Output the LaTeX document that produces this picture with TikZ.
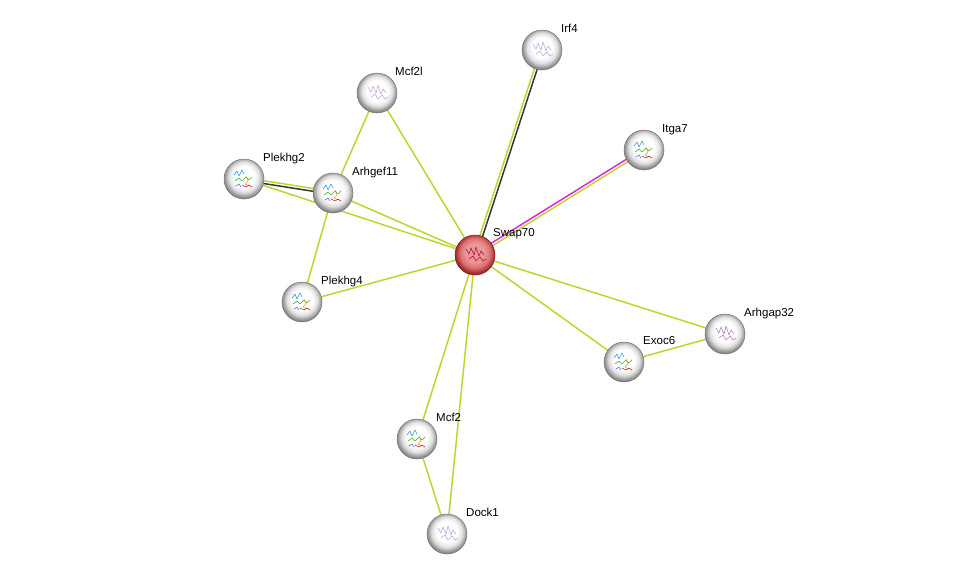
\documentclass[tikz,border=0pt]{standalone}
\usepackage{fontspec}
\setmainfont{Liberation Sans}
\usetikzlibrary{backgrounds,calc}
\definecolor{egreen}{RGB}{192,212,48}
\definecolor{eblack}{RGB}{55,55,55}
\definecolor{emag}{RGB}{222,40,222}
\definecolor{lav}{RGB}{190,150,215}
\definecolor{rimgray}{RGB}{120,120,120}
\definecolor{rimred}{RGB}{130,30,30}
\definecolor{redc}{RGB}{236,150,150}
\definecolor{redm}{RGB}{220,110,110}
\definecolor{rede}{RGB}{175,60,60}
\pgfdeclareradialshading{sphgray}{\pgfpoint{0bp}{4bp}}{%
  color(0bp)=(white); color(13bp)=(white); color(19bp)=(black!12);
  color(23bp)=(black!35); color(27bp)=(black!55); color(50bp)=(black!55)}
\pgfdeclareradialshading{sphred}{\pgfpoint{0bp}{4bp}}{%
  color(0bp)=(redc); color(12bp)=(redc); color(19bp)=(redm);
  color(23bp)=(rede); color(27bp)=(rimred); color(50bp)=(rimred)}
\tikzset{
  prot/.style={circle, minimum size=40pt, inner sep=0pt, shading=sphgray, draw=rimgray, line width=0.5pt},
  protred/.style={prot, shading=sphred, draw=rimred},
  lab/.style={anchor=base west, inner sep=0pt, font=\fontsize{11.5pt}{13pt}\selectfont},
  edge/.style={line width=1.5pt},
  scr/.style={line width=0.6pt, opacity=0.85, line join=round},
}
\newcommand\dedge[4]{%
  \draw[edge,#3] ($(#1)!1.4pt!90:(#2)$) -- ($(#2)!1.4pt!-90:(#1)$);
  \draw[edge,#4] ($(#1)!1.4pt!-90:(#2)$) -- ($(#2)!1.4pt!90:(#1)$);
}
\newcommand\scrib[2]{%
  \draw[scr,#2] ($(#1)+(-9,-6)$) -- ++(3,5) -- ++(2,-6) -- ++(3,7) -- ++(2,-8) -- ++(3,9) -- ++(2,-5) -- ++(3,4);
  \draw[scr,#2] ($(#1)+(-6,4)$) -- ++(4,-3) -- ++(3,5) -- ++(4,-4) -- ++(3,4) -- ++(3,-2);
}
\newcommand\scribrb[1]{%
  \draw[scr,cyan!70!blue] ($(#1)+(-10,-4)$) -- ++(3,-4) -- ++(2,5) -- ++(3,-6) -- ++(2,4);
  \draw[scr,green!70!black] ($(#1)+(-9,2)$) -- ++(4,-3) -- ++(3,3) -- ++(4,-4) -- ++(3,3) -- ++(3,-3);
  \draw[scr,orange] ($(#1)+(2,-3)$) -- ++(2,5) -- ++(-3,3) -- ++(4,2);
  \draw[scr,red!70!black] ($(#1)+(-2,6)$) -- ++(4,2) -- ++(3,-2) -- ++(3,2);
  \draw[scr,blue!70] ($(#1)+(-8,7)$) -- ++(3,-2) -- ++(2,3);
}
\begin{document}
\begin{tikzpicture}[x=1pt,y=-1pt]
\useasboundingbox (0,0) rectangle (976,579);
% nodes
\node[protred] (swap) at (475,255) {};
\node[prot] (irf4) at (542,50) {};
\node[prot] (mcf2l) at (377,93) {};
\node[prot] (itga7) at (644,150) {};
\node[prot] (plekhg2) at (244,179) {};
\node[prot] (arhgef11) at (333,193) {};
\node[prot] (plekhg4) at (302,302) {};
\node[prot] (arhgap32) at (725,334) {};
\node[prot] (exoc6) at (624,362) {};
\node[prot] (mcf2) at (417,439) {};
\node[prot] (dock1) at (447,534) {};
% structures
\scrib{irf4}{lav}
\scrib{mcf2l}{lav}
\scrib{dock1}{lav}
\scrib{arhgap32}{violet!60}
\scrib{swap}{purple!80!black}
\scribrb{itga7}
\scribrb{plekhg2}
\scribrb{arhgef11}
\scribrb{plekhg4}
\scribrb{exoc6}
\scribrb{mcf2}
% labels
\node[lab] (lswap) at ($(swap)+(18,-19)$) {Swap70};
\node[lab] (lirf4) at ($(irf4)+(19,-18)$) {Irf4};
\node[lab] (lmcf2l) at ($(mcf2l)+(18,-18)$) {Mcf2l};
\node[lab] (litga7) at ($(itga7)+(18,-18)$) {Itga7};
\node[lab] (lplekhg2) at ($(plekhg2)+(19,-18)$) {Plekhg2};
\node[lab] (larhgef11) at ($(arhgef11)+(19,-18)$) {Arhgef11};
\node[lab] (lplekhg4) at ($(plekhg4)+(19,-18)$) {Plekhg4};
\node[lab] (larhgap32) at ($(arhgap32)+(19,-18)$) {Arhgap32};
\node[lab] (lexoc6) at ($(exoc6)+(19,-18)$) {Exoc6};
\node[lab] (lmcf2) at ($(mcf2)+(19,-18)$) {Mcf2};
\node[lab] (ldock1) at ($(dock1)+(19,-18)$) {Dock1};
% edges
\begin{scope}[on background layer]
  \fill[white] (0,0) rectangle (976,579);
  \dedge{swap}{irf4}{egreen}{eblack}
  \dedge{swap}{itga7}{emag}{egreen}
  \dedge{plekhg2}{arhgef11}{egreen}{eblack}
  \draw[edge,egreen] (swap.center) -- (mcf2l.center);
  \draw[edge,egreen] (swap.center) -- (arhgef11.center);
  \draw[edge,egreen] (swap.center) -- (plekhg2.center);
  \draw[edge,egreen] (swap.center) -- (plekhg4.center);
  \draw[edge,egreen] (swap.center) -- (exoc6.center);
  \draw[edge,egreen] (swap.center) -- (arhgap32.center);
  \draw[edge,egreen] (swap.center) -- (mcf2.center);
  \draw[edge,egreen] (swap.center) -- (dock1.center);
  \draw[edge,egreen] (arhgef11.center) -- (mcf2l.center);
  \draw[edge,egreen] (arhgef11.center) -- (plekhg4.center);
  \draw[edge,egreen] (exoc6.center) -- (arhgap32.center);
  \draw[edge,egreen] (mcf2.center) -- (dock1.center);
\end{scope}
\end{tikzpicture}
\end{document}
